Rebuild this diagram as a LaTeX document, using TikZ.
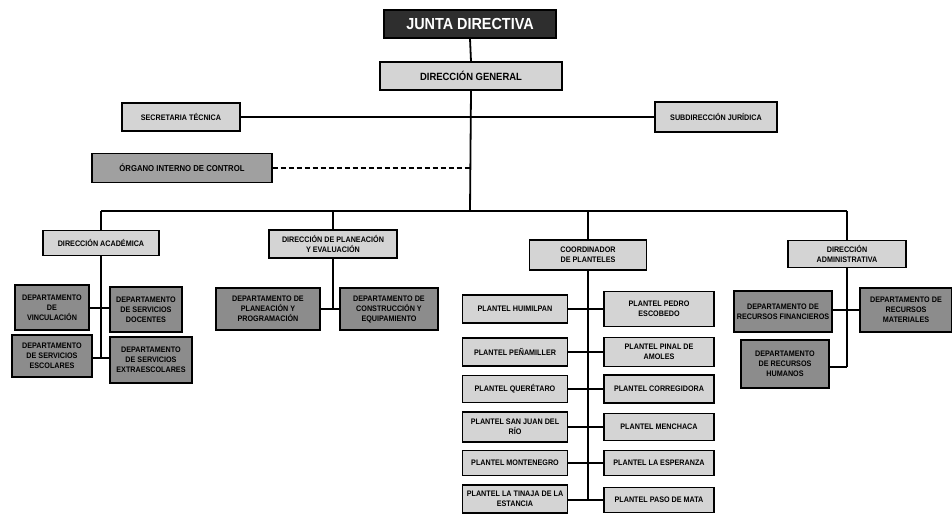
\documentclass[tikz,border=0pt]{standalone}
\usepackage{fontspec}
\setmainfont{Liberation Sans}[FakeStretch=0.9]
\definecolor{boxlight}{HTML}{D4D4D4}
\definecolor{boxmid}{HTML}{A0A0A0}
\definecolor{boxdept}{HTML}{8C8C8C}
\definecolor{boxdark}{HTML}{2E2E2E}
\newcommand\bx[7]{\node[#6, minimum width=#4pt, minimum height=#5pt] (#1) at (#2,#3) {#7};}
\begin{document}
\begin{tikzpicture}[x=1pt,y=-1pt,
  lite/.style={draw=black, line width=1.1pt, fill=boxlight, font=\bfseries\fontsize{8}{10}\selectfont, align=center, inner sep=1pt},
  midbox/.style={lite, fill=boxmid, font=\bfseries\fontsize{8.6}{10}\selectfont},
  dept/.style={lite, fill=boxdept},
  top/.style={lite, fill=boxdark, text=white, font=\bfseries\fontsize{16}{18}\selectfont},
  big/.style={lite, font=\bfseries\fontsize{10.5}{12}\selectfont},
  conn/.style={line width=1.8pt},
  thinconn/.style={line width=1.4pt}]
\useasboundingbox (0,0) rectangle (952,516);

% top level
\bx{junta}{470}{24}{172}{28}{top}{JUNTA DIRECTIVA}
\bx{dg}{471}{76}{182}{28}{big}{DIRECCIÓN GENERAL}
\bx{sec}{181}{117}{118}{28}{lite}{SECRETARIA TÉCNICA}
\bx{sub}{716}{117}{122}{30}{lite}{SUBDIRECCIÓN JURÍDICA}
\bx{oic}{182}{168}{180}{29}{midbox}{ÓRGANO INTERNO DE CONTROL}

% second level
\bx{dacad}{101}{243}{116}{25}{lite}{DIRECCIÓN ACADÉMICA}
\bx{dplan}{333}{244}{128}{28}{lite}{DIRECCIÓN DE PLANEACIÓN\\Y EVALUACIÓN}
\bx{coord}{588}{255}{117}{30}{lite}{COORDINADOR\\DE PLANTELES}
\bx{dadm}{847}{254}{118}{27}{lite}{DIRECCIÓN\\ADMINISTRATIVA}

% academic departments
\bx{vinc}{52}{307.5}{74}{45}{dept}{DEPARTAMENTO\\DE\\VINCULACIÓN}
\bx{doc}{146}{309.5}{72}{45}{dept}{DEPARTAMENTO\\DE SERVICIOS\\DOCENTES}
\bx{esc}{52}{356}{80}{42}{dept}{DEPARTAMENTO\\DE SERVICIOS\\ESCOLARES}
\bx{extra}{151}{360}{82}{46}{dept}{DEPARTAMENTO\\DE SERVICIOS\\EXTRAESCOLARES}

% planning departments
\bx{plprog}{268}{309}{104}{42}{dept}{DEPARTAMENTO DE\\PLANEACIÓN Y\\PROGRAMACIÓN}
\bx{constr}{389}{309}{98}{42}{dept}{DEPARTAMENTO DE\\CONSTRUCCIÓN Y\\EQUIPAMIENTO}

% planteles
\bx{p1}{515}{309}{105}{28}{lite}{PLANTEL HUIMILPAN}
\bx{p2}{659}{309}{110}{35}{lite}{PLANTEL PEDRO\\ESCOBEDO}
\bx{p3}{515}{352}{105}{28}{lite}{PLANTEL PEÑAMILLER}
\bx{p4}{659}{352}{110}{29}{lite}{PLANTEL PINAL DE\\AMOLES}
\bx{p5}{515}{389}{105}{27}{lite}{PLANTEL QUERÉTARO}
\bx{p6}{659}{389}{110}{28}{lite}{PLANTEL CORREGIDORA}
\bx{p7}{515}{427}{105}{30}{lite}{PLANTEL SAN JUAN DEL\\RÍO}
\bx{p8}{659}{427}{110}{27}{lite}{PLANTEL MENCHACA}
\bx{p9}{515}{463}{105}{25}{lite}{PLANTEL MONTENEGRO}
\bx{p10}{659}{463}{110}{25}{lite}{PLANTEL LA ESPERANZA}
\bx{p11}{515}{499}{105}{28}{lite}{PLANTEL LA TINAJA DE LA\\ESTANCIA}
\bx{p12}{659}{500}{110}{25}{lite}{PLANTEL PASO DE MATA}

% administrative departments
\bx{rfin}{783}{311.5}{98}{41}{dept}{DEPARTAMENTO DE\\RECURSOS FINANCIEROS}
\bx{rmat}{906}{310}{92}{44}{dept}{DEPARTAMENTO DE\\RECURSOS\\MATERIALES}
\bx{rhum}{785}{364}{88}{48}{dept}{DEPARTAMENTO\\DE RECURSOS\\HUMANOS}

% junction coordinates
\coordinate (busC) at (470,211);
\coordinate (busL) at (101,211);
\coordinate (busP) at (333,211);
\coordinate (busK) at (588,211);
\coordinate (busR) at (847,211);
\coordinate (oicj) at (470,168);
\coordinate (acadEnd) at (101,358);
\coordinate (coordEnd) at (588,500);
\coordinate (admEnd) at (847,367);

% main connectors
\draw[conn] (junta.south) -- (dg.north);
\draw[conn] (dg.south) -- (busC);
\draw[conn] (sec.east) -- (sub.west);
\draw[conn, dash pattern=on 5pt off 3pt] (oic.east) -- (oicj);
\draw[conn] (busL) -- (busR);
\draw[conn] (busL) -- (dacad.north);
\draw[conn] (busP) -- (dplan.north);
\draw[conn] (busK) -- (coord.north);
\draw[conn] (busR) -- (dadm.north);

% academic
\draw[thinconn] (dacad.south) -- (acadEnd);
\draw[thinconn] (vinc.east |- 0,308) -- (doc.west |- 0,308);
\draw[thinconn] (esc.east |- acadEnd) -- (extra.west |- acadEnd);

% planning
\draw[conn] (dplan.south) -- (dplan.south |- plprog.east);
\draw[thinconn] (plprog.east) -- (constr.west);

% planteles
\draw[thinconn] (coord.south) -- (coordEnd);
\draw[thinconn] (p1.east) -- (p2.west);
\draw[thinconn] (p3.east) -- (p4.west);
\draw[thinconn] (p5.east) -- (p6.west);
\draw[thinconn] (p7.east) -- (p8.west);
\draw[thinconn] (p9.east) -- (p10.west);
\draw[thinconn] (p11.east |- coordEnd) -- (p12.west);

% administrative
\draw[thinconn] (dadm.south) -- (admEnd);
\draw[thinconn] (rfin.east |- rmat.west) -- (rmat.west);
\draw[thinconn] (rhum.east |- admEnd) -- (admEnd);
\end{tikzpicture}
\end{document}
